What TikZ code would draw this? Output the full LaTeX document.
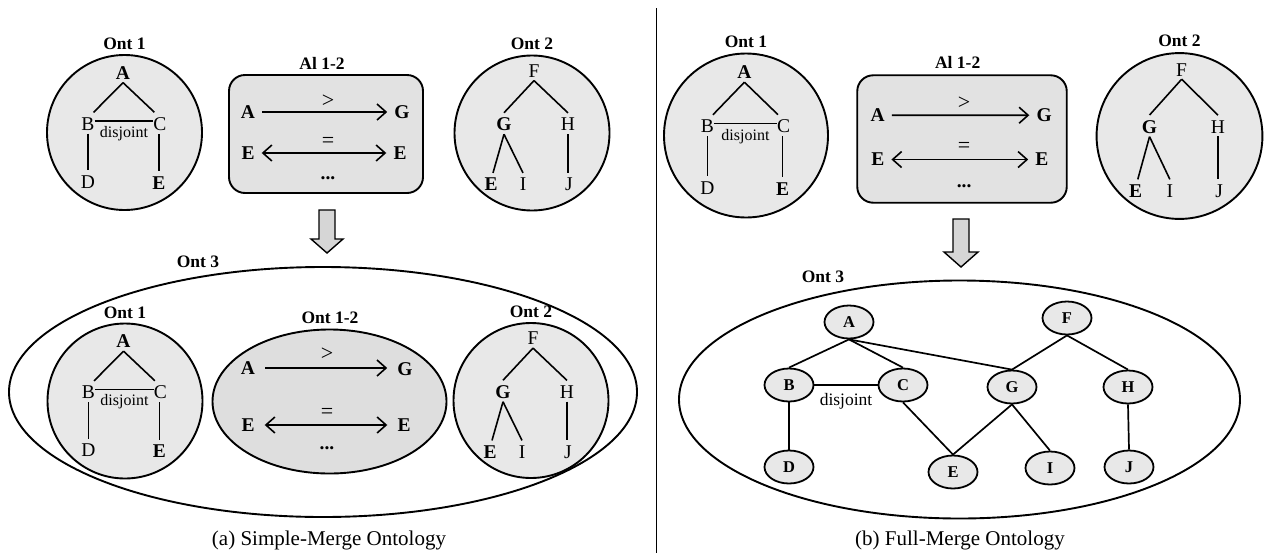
\documentclass[tikz,border=0pt]{standalone}
\usepackage{fontspec}
\setmainfont{Liberation Serif}
\usetikzlibrary{arrows.meta,shapes.geometric,calc}
\definecolor{ontgrey}{RGB}{232,232,232}
\definecolor{boxgrey}{RGB}{226,226,226}
\definecolor{midgrey}{RGB}{222,222,222}
\definecolor{arrgrey}{RGB}{214,214,214}
\tikzset{
  olabel/.style={font=\fontsize{17.5}{20}\selectfont\bfseries, inner sep=0pt},
  rltr/.style={font=\fontsize{19.5}{22}\selectfont, inner sep=3pt},
  bltr/.style={font=\fontsize{19.5}{22}\selectfont\bfseries, inner sep=3pt},
  dis/.style={font=\fontsize{16}{18}\selectfont, inner sep=0pt},
  symb/.style={font=\fontsize{22}{24}\selectfont, inner sep=0pt},
  treeline/.style={line width=1.6pt},
  ontcircle/.style={draw, line width=1.9pt, fill=ontgrey},
  albox/.style={draw, line width=1.9pt, fill=boxgrey, rounded corners=16pt},
  relarrow/.style={line width=1.6pt},
  tipR/.style={-{Straight Barb[length=9pt,width=16pt,line width=1.6pt]}},
  tipLR/.style={{Straight Barb[length=9pt,width=16pt,line width=1.6pt]}-{Straight Barb[length=9pt,width=16pt,line width=1.6pt]}},
  gnode/.style={ellipse, draw, line width=1.8pt, fill=ontgrey, minimum width=49pt, minimum height=33pt, inner sep=0pt, font=\fontsize{16.5}{18}\selectfont\bfseries},
  gline/.style={line width=1.7pt},
  bigell/.style={draw, line width=1.9pt},
  hollow/.style={draw, line width=1.4pt, fill=arrgrey},
  caption/.style={font=\fontsize{21}{24}\selectfont, inner sep=0pt},
  ontone/.pic={
    \draw[ontcircle] (0,0) circle[radius=77.5];
    \node[olabel] at (0,-88.5) {Ont 1};
    \node[bltr] (-A) at (-1.5,-59.5) {A};
    \node[rltr] (-B) at (-36.5,-8.5) {B};
    \node[rltr] (-C) at (35.5,-8.5) {C};
    \node[rltr] (-D) at (-36.5,49.5) {D};
    \node[bltr] (-E) at (34.5,50.5) {E};
    \node[dis] (-dj) at (-0.5,1) {disjoint};
    \draw[treeline] (-A.south) -- ([yshift=2pt]-B.60);
    \draw[treeline] (-A.south) -- ([yshift=2pt]-C.120);
    \draw[treeline] ([xshift=-3pt,yshift=3pt]-B.east) -- ([xshift=3pt,yshift=3pt]-C.west);
    \draw[treeline] (-B.south) -- ([yshift=2pt]-B.south |- -D.north);
    \draw[treeline] ([xshift=-1pt]-C.south) -- ([xshift=-1pt,yshift=2pt]-C.south |- -E.north);
  },
  onttwo/.pic={
    \draw[ontcircle] (0,0) circle[radius=77.5];
    \node[olabel] at (0,-89) {Ont 2};
    \node[rltr] (-F) at (2,-62) {F};
    \node[bltr] (-G) at (-28,-8.5) {G};
    \node[rltr] (-H) at (36,-8.5) {H};
    \node[bltr] (-E) at (-41,51.5) {E};
    \node[rltr] (-I) at (-9,51.5) {I};
    \node[rltr] (-J) at (37,51.5) {J};
    \draw[treeline] (-F.south) -- ([yshift=2pt]-G.north);
    \draw[treeline] (-F.south) -- ([yshift=2pt]-H.north);
    \draw[treeline] (-G.south) -- ([yshift=2pt,xshift=2pt]-E.north);
    \draw[treeline] (-G.south) -- ([yshift=2pt]-I.north);
    \draw[treeline] (-H.south) -- ([yshift=2pt]-H.south |- -J.north);
  },
  alone/.pic={
    \draw[albox] (-97,-59) rectangle (97,59);
    \node[olabel] at (-4,-71) {Al 1-2};
    \node[bltr, inner sep=7pt] (-A) at (-78,-22) {A};
    \node[bltr, inner sep=7pt] (-G) at (76,-22) {G};
    \node[bltr, inner sep=7pt] (-E1) at (-78,19) {E};
    \node[bltr, inner sep=7pt] (-E2) at (74,19) {E};
    \draw[relarrow, tipR] (-A) -- (-G);
    \draw[relarrow, tipLR] (-E1) -- (-E2);
    \node[symb] (-gt) at (2,-33) {>};
    \node[symb] (-eq) at (2,8) {=};
    \node[bltr] (-dots) at (2,44) {...};
  }
}
\begin{document}
\begin{tikzpicture}[x=1pt,y=-1pt]
\useasboundingbox (0,0) rectangle (1266,555);

% ---------- left panel ----------
\pic (tl1) at (124.5,132.5) {ontone};
\pic (tla) at (326,134) {alone};
\pic (tl2) at (532,133) {onttwo};

\draw[hollow] (319,210) -- (335,210) -- (335,239) -- (343,239) -- (327,253) -- (311,239) -- (319,239) -- cycle;

\draw[bigell] (323,392) ellipse[x radius=314, y radius=125];
\node[olabel] at (198,262) {Ont 3};

\pic (bl1) at (125,401) {ontone};
\pic (bl2) at (531,400.5) {onttwo};

\draw[draw, line width=1.9pt, fill=midgrey] (329.5,401.5) ellipse[x radius=117, y radius=72];
\node[olabel] at (330,318) {Ont 1-2};
\node[bltr, inner sep=10pt] (mA) at (248,368) {A};
\node[bltr, inner sep=10pt] (mG) at (405,369) {G};
\node[bltr, inner sep=10pt] (mE1) at (248,425) {E};
\node[bltr, inner sep=10pt] (mE2) at (404,425) {E};
\draw[relarrow, tipR] (mA) -- (mA -| mG.west);
\draw[relarrow, tipLR] (mE1) -- (mE2);
\node[symb] (mgt) at (327,354) {>};
\node[symb] (meq) at (327,413) {=};
\node[bltr] (mdots) at (327,448) {...};

\node[caption] at (329,540) {(a) Simple-Merge Ontology};

\draw[line width=1pt] (656,8) -- (656,553);

% ---------- right panel ----------
\pic[scale=1.058] (tr1) at (746,135.5) {ontone};
\pic[scale=1.08] (tra) at (962,139) {alone};
\pic[scale=1.07] (tr2) at (1179.5,136) {onttwo};

\draw[hollow] (953,219) -- (969,219) -- (969,252) -- (978,252) -- (961,267) -- (944,252) -- (953,252) -- cycle;

\draw[bigell] (959.5,399.5) ellipse[x radius=280.5, y radius=119];
\node[olabel] at (823,277) {Ont 3};

\node[gnode] (gA) at (849,322) {A};
\node[gnode] (gF) at (1067,318) {F};
\node[gnode] (gB) at (789,385) {B};
\node[gnode] (gC) at (903,385) {C};
\node[gnode] (gG) at (1012,387) {G};
\node[gnode] (gH) at (1128,387) {H};
\node[gnode] (gD) at (789,467) {D};
\node[gnode] (gE) at (953,472) {E};
\node[gnode] (gI) at (1050,468) {I};
\node[gnode] (gJ) at (1129,467) {J};

\draw[gline] (gA.south) -- (gB.north);
\draw[gline] (gA.south) -- (gC.north);
\draw[gline] (gA.south) -- (gG.north);
\draw[gline] (gF.south) -- (gG.north);
\draw[gline] (gF.south) -- (gH.north);
\draw[gline] (gB.east) -- (gC.west);
\node[font=\fontsize{17.5}{20}\selectfont, inner sep=0pt] (gdj) at (846,401) {disjoint};
\draw[gline] (gB.south) -- (gD.north);
\draw[gline] (gC.south) -- (gE.north);
\draw[gline] (gG.south) -- (gE.north);
\draw[gline] (gG.south) -- (gI.north);
\draw[gline] (gH.south) -- (gJ.north);

\node[caption] at (960,540) {(b) Full-Merge Ontology};
\end{tikzpicture}
\end{document}
